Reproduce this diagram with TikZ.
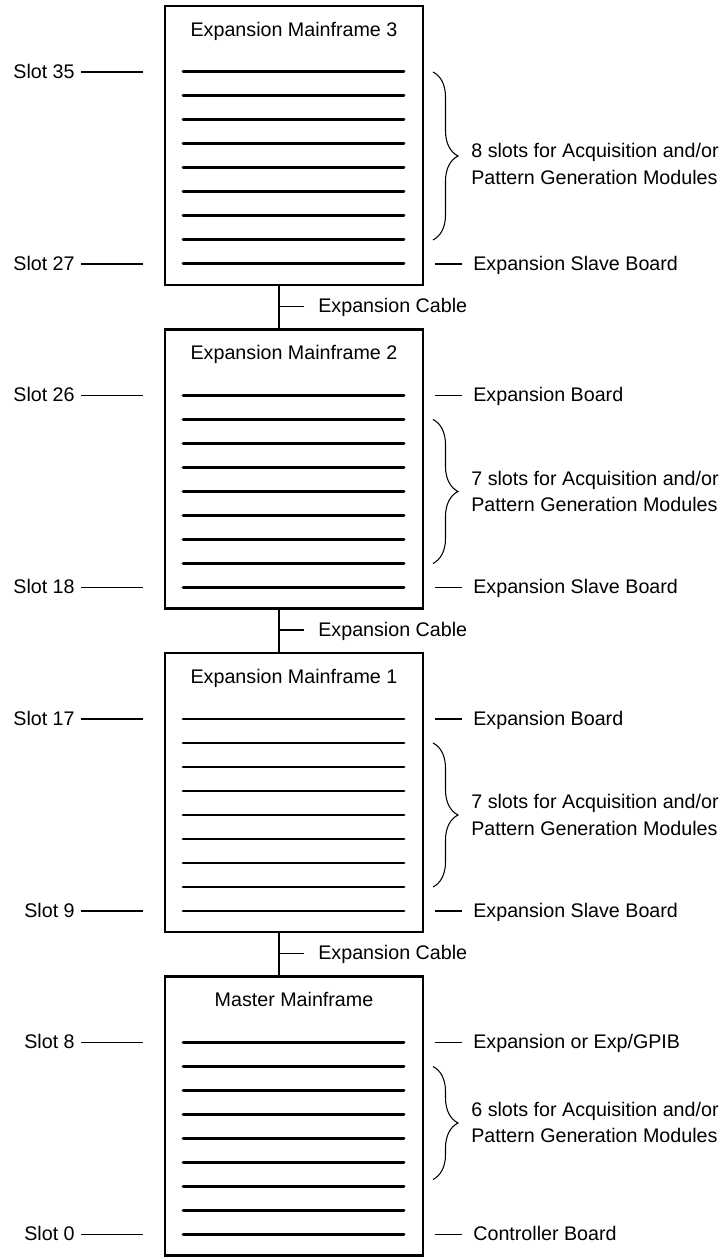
\documentclass[tikz,border=0pt]{standalone}
\usepackage{fontspec}
\setmainfont{Liberation Sans}
\usepackage{tikz}
\usetikzlibrary{positioning,decorations.pathreplacing}

\begin{document}
\begin{tikzpicture}[
    frame/.style={draw, line width=1.2pt, minimum width=5.16cm, minimum height=5.58cm, inner sep=0pt, outer sep=0pt},
    slotline/.style={line width=1.7pt, line cap=round},
    cable/.style={line width=1pt},
    leader/.style={line width=0.6pt},
    brc/.style={decorate, decoration={brace, amplitude=0.5cm}, line width=0.6pt},
    lbl/.style={inner sep=0pt, text height=0.72em, text depth=0pt, font=\fontsize{11.2}{15}\selectfont},
    grouplbl/.style={inner sep=0pt, align=left, anchor=west, font=\fontsize{11.2}{15}\selectfont}
  ]
  \useasboundingbox (0,-0.03) rectangle (14.46,25.11);

  % --- Master Mainframe: slots 0-8 ---
  \begin{scope}
    \node[frame] (mf0) at (5.88,2.79) {};
    \node[lbl] (mf0title) at (5.88,5.10) {Master Mainframe};
    \foreach \i in {0,...,8}
      \draw[slotline] (3.66,{0.42+0.48*\i}) -- (8.08,{0.42+0.48*\i});
    \node[lbl, anchor=east] (s8) at (1.5,4.26) {Slot 8};
    \draw[leader] (s8.east) ++(0.12,0) -- ++(1.24,0);
    \node[lbl, anchor=east] (s0) at (1.5,0.42) {Slot 0};
    \draw[leader] (s0.east) ++(0.12,0) -- ++(1.24,0);
    \node[lbl, anchor=west] (gpib) at (9.46,4.26) {Expansion or Exp/GPIB};
    \draw[leader] (gpib.west) ++(-0.22,0) -- ++(-0.54,0);
    \node[lbl, anchor=west] (ctrl) at (9.46,0.42) {Controller Board};
    \draw[leader] (ctrl.west) ++(-0.22,0) -- ++(-0.54,0);
    \draw[brc] (8.66,3.78) -- (8.66,1.52);
    \node[grouplbl] (grp0) at (9.42,2.66) {6 slots for Acquisition and/or\\Pattern Generation Modules};
    \node[lbl, anchor=west] (cab0) at (6.36,6.04) {Expansion Cable};
    \draw[leader] (cab0.west) ++(-0.28,0) -- ++(-0.5,0);
  \end{scope}

  % --- Expansion Mainframe 1: slots 9-17 ---
  \begin{scope}[yshift=6.47cm]
    \node[frame] (mf1) at (5.88,2.79) {};
    \node[lbl] (mf1title) at (5.88,5.10) {Expansion Mainframe 1};
    \foreach \i in {0,...,8}
      \draw[slotline] (3.66,{0.42+0.48*\i}) -- (8.08,{0.42+0.48*\i});
    \node[lbl, anchor=east] (s17) at (1.5,4.26) {Slot 17};
    \draw[leader] (s17.east) ++(0.12,0) -- ++(1.24,0);
    \node[lbl, anchor=east] (s9) at (1.5,0.42) {Slot 9};
    \draw[leader] (s9.east) ++(0.12,0) -- ++(1.24,0);
    \node[lbl, anchor=west] (eb1) at (9.46,4.26) {Expansion Board};
    \draw[leader] (eb1.west) ++(-0.22,0) -- ++(-0.54,0);
    \node[lbl, anchor=west] (esb1) at (9.46,0.42) {Expansion Slave Board};
    \draw[leader] (esb1.west) ++(-0.22,0) -- ++(-0.54,0);
    \draw[brc] (8.66,3.78) -- (8.66,0.90);
    \node[grouplbl] (grp1) at (9.42,2.34) {7 slots for Acquisition and/or\\Pattern Generation Modules};
    \node[lbl, anchor=west] (cab1) at (6.36,6.04) {Expansion Cable};
    \draw[leader] (cab1.west) ++(-0.28,0) -- ++(-0.5,0);
  \end{scope}

  % --- Expansion Mainframe 2: slots 18-26 ---
  \begin{scope}[yshift=12.94cm]
    \node[frame] (mf2) at (5.88,2.79) {};
    \node[lbl] (mf2title) at (5.88,5.10) {Expansion Mainframe 2};
    \foreach \i in {0,...,8}
      \draw[slotline] (3.66,{0.42+0.48*\i}) -- (8.08,{0.42+0.48*\i});
    \node[lbl, anchor=east] (s26) at (1.5,4.26) {Slot 26};
    \draw[leader] (s26.east) ++(0.12,0) -- ++(1.24,0);
    \node[lbl, anchor=east] (s18) at (1.5,0.42) {Slot 18};
    \draw[leader] (s18.east) ++(0.12,0) -- ++(1.24,0);
    \node[lbl, anchor=west] (eb2) at (9.46,4.26) {Expansion Board};
    \draw[leader] (eb2.west) ++(-0.22,0) -- ++(-0.54,0);
    \node[lbl, anchor=west] (esb2) at (9.46,0.42) {Expansion Slave Board};
    \draw[leader] (esb2.west) ++(-0.22,0) -- ++(-0.54,0);
    \draw[brc] (8.66,3.78) -- (8.66,0.90);
    \node[grouplbl] (grp2) at (9.42,2.34) {7 slots for Acquisition and/or\\Pattern Generation Modules};
    \node[lbl, anchor=west] (cab2) at (6.36,6.04) {Expansion Cable};
    \draw[leader] (cab2.west) ++(-0.28,0) -- ++(-0.5,0);
  \end{scope}

  % --- Expansion Mainframe 3: slots 27-35 ---
  \begin{scope}[yshift=19.41cm]
    \node[frame] (mf3) at (5.88,2.79) {};
    \node[lbl] (mf3title) at (5.88,5.10) {Expansion Mainframe 3};
    \foreach \i in {0,...,8}
      \draw[slotline] (3.66,{0.42+0.48*\i}) -- (8.08,{0.42+0.48*\i});
    \node[lbl, anchor=east] (s35) at (1.5,4.26) {Slot 35};
    \draw[leader] (s35.east) ++(0.12,0) -- ++(1.24,0);
    \node[lbl, anchor=east] (s27) at (1.5,0.42) {Slot 27};
    \draw[leader] (s27.east) ++(0.12,0) -- ++(1.24,0);
    \node[lbl, anchor=west] (esb3) at (9.46,0.42) {Expansion Slave Board};
    \draw[leader] (esb3.west) ++(-0.22,0) -- ++(-0.54,0);
    \draw[brc] (8.66,4.26) -- (8.66,0.90);
    \node[grouplbl] (grp3) at (9.42,2.42) {8 slots for Acquisition and/or\\Pattern Generation Modules};
  \end{scope}

  % expansion cables
  \draw[cable] ([xshift=-0.3cm]mf0.north) -- ([xshift=-0.3cm]mf1.south);
  \draw[cable] ([xshift=-0.3cm]mf1.north) -- ([xshift=-0.3cm]mf2.south);
  \draw[cable] ([xshift=-0.3cm]mf2.north) -- ([xshift=-0.3cm]mf3.south);
\end{tikzpicture}
\end{document}
